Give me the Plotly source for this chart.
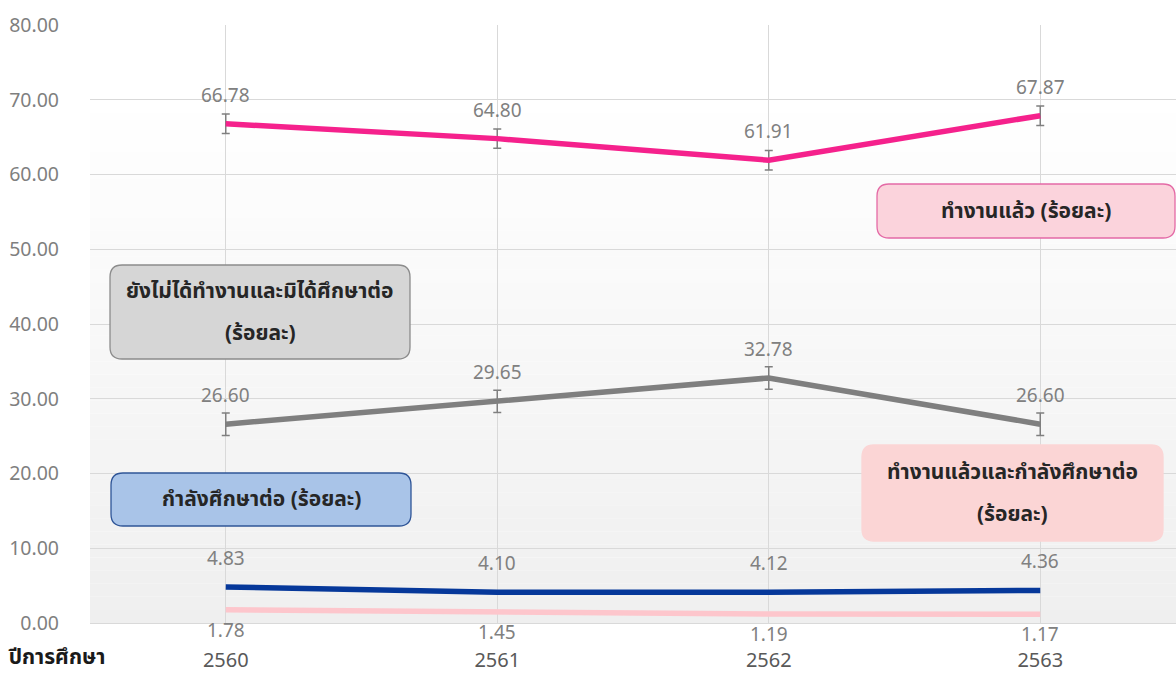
import plotly.graph_objects as go

years = ["2560", "2561", "2562", "2563"]
employed = [66.78, 64.80, 61.91, 67.87]
not_working = [26.60, 29.65, 32.78, 26.60]
studying = [4.83, 4.10, 4.12, 4.36]
work_and_study = [1.78, 1.45, 1.19, 1.17]
err_employed = [1.3, 1.3, 1.3, 1.3]
err_not_working = [1.5, 1.5, 1.5, 1.5]

y_ticks = [0, 10, 20, 30, 40, 50, 60, 70, 80]

# layout geometry (pixels)
W, H = 1176, 675
L, R, T, B = 90, 0, 25, 52
PW, PH = W - L - R, H - T - B

THAI = "Noto Sans Thai, Noto Sans, DejaVu Sans, sans-serif"
NUM = "Noto Sans, DejaVu Sans, sans-serif"

fig = go.Figure()

series = [
    ("ทำงานแล้ว", employed, "#f5218c", err_employed),
    ("ยังไม่ได้ทำงานและมิได้ศึกษาต่อ", not_working, "#7f7f7f", err_not_working),
    ("กำลังศึกษาต่อ", studying, "#06389a", None),
    ("ทำงานแล้วและกำลังศึกษาต่อ", work_and_study, "#fdc6cc", None),
]

for name, vals, color, err in series:
    tr = dict(x=years, y=vals, mode="lines", name=name,
              line=dict(color=color, width=5.5), showlegend=False, hoverinfo="skip")
    if err:
        tr["error_y"] = dict(type="data", array=err, visible=True,
                             color="#7f7f7f", thickness=1.5, width=4)
    fig.add_trace(go.Scatter(**tr))

annotations = []
for name, vals, color, err in series:
    shift = -20 if vals is work_and_study else 29
    for i, v in enumerate(vals):
        annotations.append(dict(x=i, y=v, xref="x", yref="y", text=f"{v:.2f}",
                                showarrow=False, yshift=shift,
                                font=dict(family=NUM, size=19, color="#808080")))


def px_x(p):
    return (p - L) / PW


def px_y(p):
    return (H - B - p) / PH


def rrect(x0, y0, x1, y1, r):
    # pixel coords -> paper path with rounded corners
    X = lambda v: f"{px_x(v):.5f}"
    Y = lambda v: f"{px_y(v):.5f}"
    return (f"M {X(x0 + r)},{Y(y0)} L {X(x1 - r)},{Y(y0)} Q {X(x1)},{Y(y0)} {X(x1)},{Y(y0 + r)} "
            f"L {X(x1)},{Y(y1 - r)} Q {X(x1)},{Y(y1)} {X(x1 - r)},{Y(y1)} "
            f"L {X(x0 + r)},{Y(y1)} Q {X(x0)},{Y(y1)} {X(x0)},{Y(y1 - r)} "
            f"L {X(x0)},{Y(y0 + r)} Q {X(x0)},{Y(y0)} {X(x0 + r)},{Y(y0)} Z")


shapes = []
# gradient background stripes (white at top -> light gray at bottom)
n = 40
top_frac = 70 / 80
for i in range(n):
    f0 = top_frac * i / n
    f1 = top_frac * (i + 1) / n
    t = (i + 0.5) / n
    c = int(round(239 + (255 - 239) * t))
    shapes.append(dict(type="rect", xref="paper", yref="paper", x0=0, x1=1, y0=f0, y1=f1,
                       fillcolor=f"rgb({c},{c},{c})", line=dict(width=0), layer="below"))

# tick marks between categories
for i in range(len(years) + 1):
    shapes.append(dict(type="line", xref="x", yref="y", x0=i - 0.5, x1=i - 0.5,
                       ysizemode="pixel", yanchor=0, y0=0, y1=-10,
                       line=dict(color="#d0d0d0", width=1)))

boxes = [
    # (x0, y0, x1, y1, fill, border, lines)
    (877, 184, 1175, 238, "#fbd3dc", "#e46aa6", ["ทำงานแล้ว (ร้อยละ)"]),
    (110, 265, 410, 359, "#d6d6d6", "#8c8c8c", ["ยังไม่ได้ทำงานและมิได้ศึกษาต่อ", "(ร้อยละ)"]),
    (111, 473, 411, 526, "#a9c4e8", "#2f5597", ["กำลังศึกษาต่อ (ร้อยละ)"]),
    (862, 445, 1163, 541, "#fbd5d5", "#fbd5d5", ["ทำงานแล้วและกำลังศึกษาต่อ", "(ร้อยละ)"]),
]
for x0, y0, x1, y1, fill, border, lines in boxes:
    shapes.append(dict(type="path", xref="paper", yref="paper", path=rrect(x0, y0, x1, y1, 12),
                       fillcolor=fill, line=dict(color=border, width=1.3), layer="above"))
    cx = (x0 + x1) / 2
    cy = (y0 + y1) / 2
    step = 42
    k = len(lines)
    for j, txt in enumerate(lines):
        ly = cy + (j - (k - 1) / 2) * step
        annotations.append(dict(x=px_x(cx), y=px_y(ly), xref="paper", yref="paper",
                                text=f"<b>{txt}</b>", showarrow=False,
                                xanchor="center", yanchor="middle",
                                font=dict(family=THAI, size=21, color="#262626")))

annotations.append(dict(x=px_x(7), y=px_y(657), xref="paper", yref="paper",
                        text="<b>ปีการศึกษา</b>", showarrow=False,
                        xanchor="left", yanchor="middle", borderpad=0,
                        font=dict(family=THAI, size=21, color="#1a1a1a")))

fig.update_layout(
    width=W, height=H,
    margin=dict(l=L, r=R, t=T, b=B, autoexpand=False),
    paper_bgcolor="white",
    plot_bgcolor="white",
    shapes=shapes,
    annotations=annotations,
    xaxis=dict(type="category", range=[-0.5, len(years) - 0.5], automargin=False,
               showgrid=True, gridcolor="#d9d9d9", gridwidth=1,
               showline=True, linecolor="#d9d9d9", linewidth=1,
               ticks="", ticklabelstandoff=19,
               tickfont=dict(family=NUM, size=20, color="#595959"),
               zeroline=False, fixedrange=True),
    yaxis=dict(range=[0, 80], tickvals=y_ticks, tickformat=".2f", automargin=False,
               showgrid=True, gridcolor="#d9d9d9", gridwidth=1,
               zeroline=False, showline=False, ticks="",
               ticklabelstandoff=30,
               tickfont=dict(family=NUM, size=19.5, color="#7f7f7f"), fixedrange=True),
)

fig.write_html("out.html", config={"displayModeBar": False},
               post_script="document.body.style.margin='0';document.body.style.overflow='hidden';")
